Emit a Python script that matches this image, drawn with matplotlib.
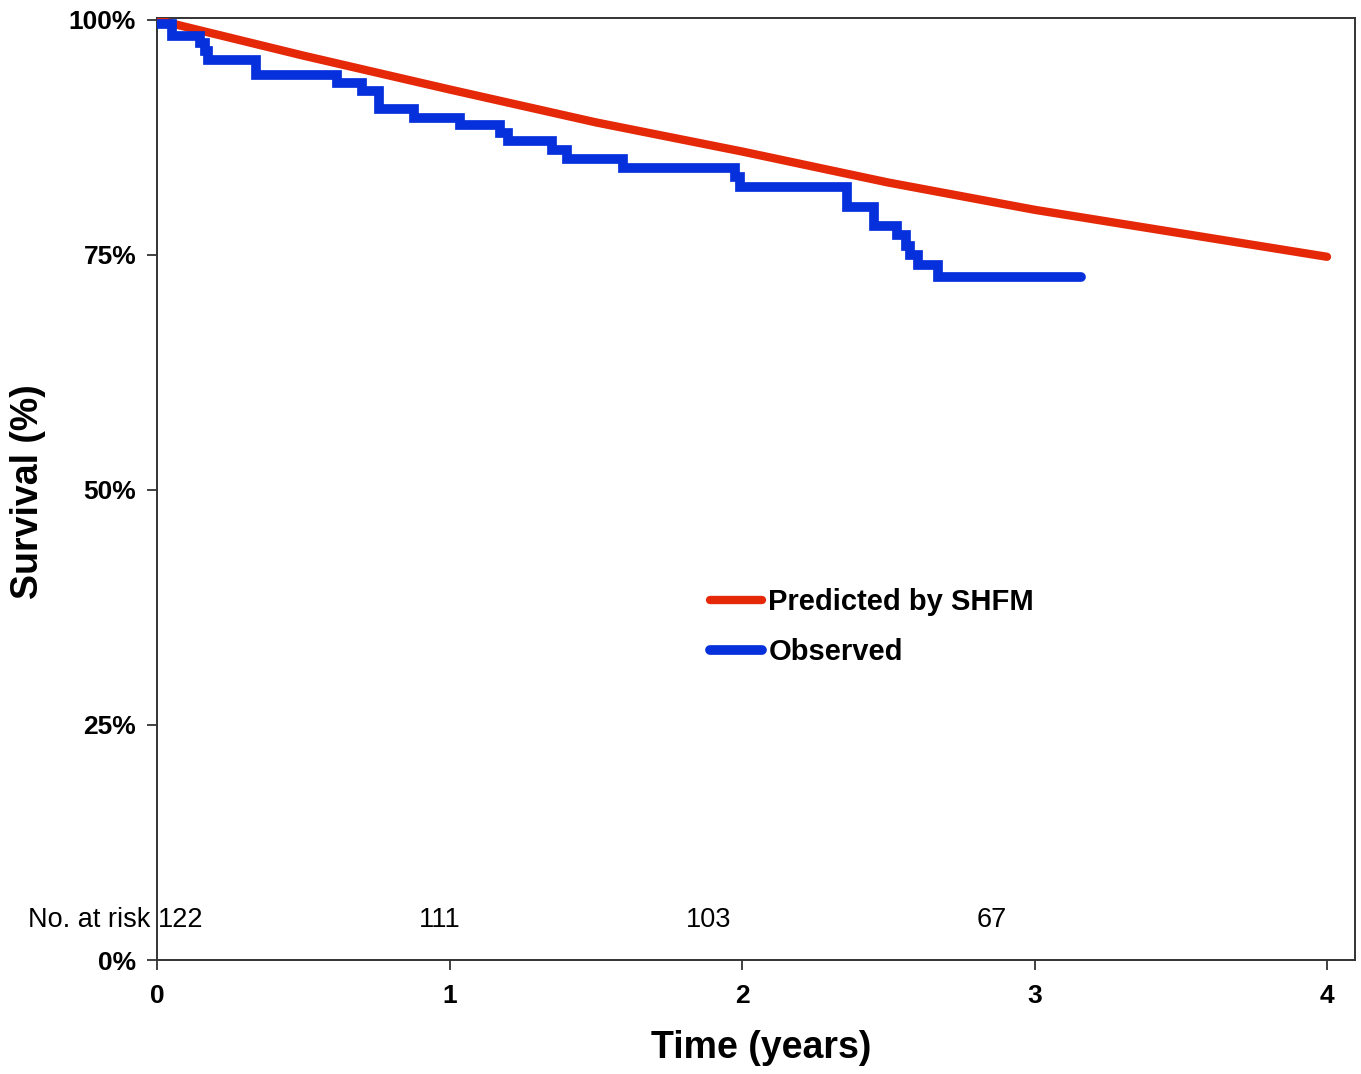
import matplotlib
matplotlib.use("Agg")
import matplotlib.pyplot as plt

plt.rcParams['font.family'] = ['Liberation Sans', 'DejaVu Sans']

# predicted survival (SHFM), read at half-year points
pred_t = [0, 0.5, 1.0, 1.5, 2.0, 2.5, 3.0, 3.5, 4.0]
pred_s = [100, 96.2, 92.6, 89.1, 86.0, 82.7, 79.8, 77.3, 74.8]

# observed Kaplan-Meier steps (value holds from time until next time)
obs_t = [0, 0.05, 0.147, 0.164, 0.174, 0.34, 0.615, 0.70, 0.76, 0.88, 1.036,
         1.173, 1.20, 1.35, 1.40, 1.594, 1.976, 1.993, 2.36, 2.45, 2.53,
         2.56, 2.575, 2.60, 2.67, 3.16]
obs_s = [99.6, 98.3, 97.5, 96.7, 95.7, 94.1, 93.3, 92.4, 90.5, 89.6, 88.8,
         88.0, 87.1, 86.2, 85.2, 84.2, 83.3, 82.2, 80.1, 78.1, 77.1,
         76.0, 75.0, 73.9, 72.7, 72.7]

risk_n = [122, 111, 103, 67]
risk_x = [0.08, 0.967, 1.887, 2.855]

y_ticks = [0, 25, 50, 75, 100]
x_ticks = [0, 1, 2, 3, 4]

fig = plt.figure(figsize=(13.61, 10.74), dpi=100)
ax = fig.add_axes([157/1361, 1 - 960/1074, 1198/1361, 942/1074])

red = '#E52808'
blue = '#0530DC'
ax.plot(pred_t, pred_s, color=red, lw=6.0, solid_capstyle='round',
        solid_joinstyle='round', label='Predicted by SHFM', zorder=3)
ax.step(obs_t, obs_s, where='post', color=blue, lw=7.0,
        solid_capstyle='round', solid_joinstyle='miter', label='Observed', zorder=4)

ax.set_xlim(0, 1198/292.5)
ax.set_ylim(0, 100.2)
ax.set_xticks(x_ticks)
ax.set_xticklabels([str(v) for v in x_ticks])
ax.set_yticks(y_ticks)
ax.set_yticklabels([f'{v}%' for v in y_ticks])
ax.tick_params(direction='out', length=7, width=1.3, color='#333333',
               labelsize=19, pad=8)
for lab in ax.get_xticklabels() + ax.get_yticklabels():
    lab.set_fontweight('bold')
ax.tick_params(axis='x', pad=10)
for sp in ax.spines.values():
    sp.set_linewidth(1.4)
    sp.set_color('#333333')

fig.text(761/1361, 1 - 1048/1074, 'Time (years)', ha='center', va='center',
         fontsize=27, fontweight='bold')
fig.text(28/1361, 1 - 492/1074, 'Survival (%)', ha='center', va='center',
         rotation=90, fontsize=27, fontweight='bold')

ax.text(-0.024, 4.3, 'No. at risk', ha='right', va='center', fontsize=19.5)
for x, n in zip(risk_x, risk_n):
    ax.text(x, 4.3, str(n), ha='center', va='center', fontsize=19.5)

leg = ax.legend(loc='upper left', bbox_to_anchor=(0.4616, 0.395),
                frameon=False, fontsize=21, handlelength=1.8,
                handletextpad=0.2, labelspacing=0.75, borderpad=0,
                borderaxespad=0)
for t in leg.get_texts():
    t.set_fontweight('bold')

fig.savefig('out.png', dpi=100)
